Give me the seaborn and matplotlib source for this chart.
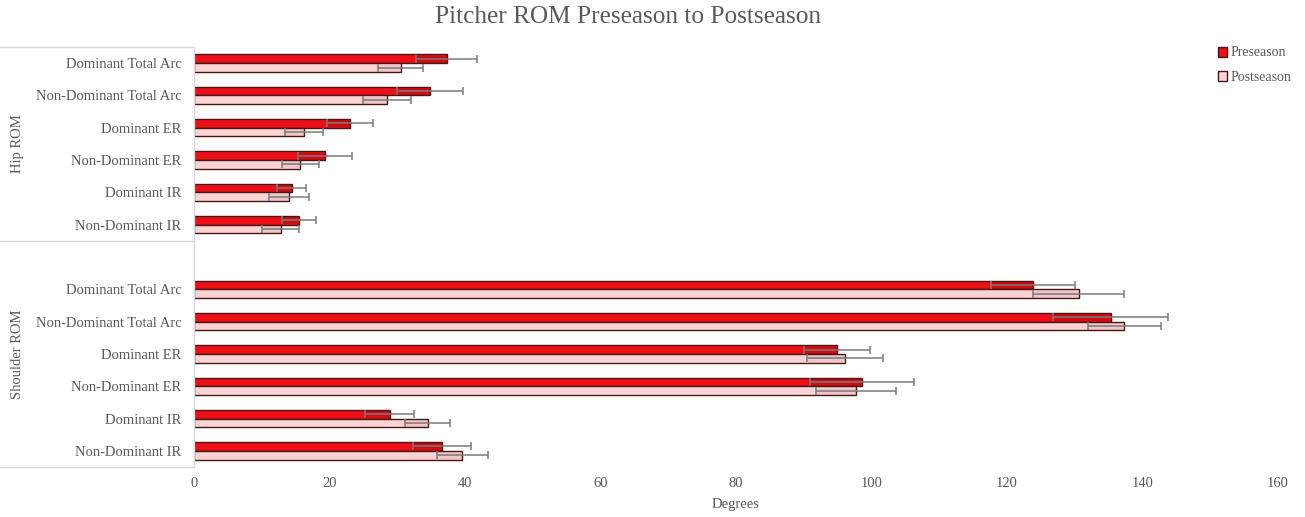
import numpy as np
import pandas as pd
import matplotlib
matplotlib.use("Agg")
import matplotlib.pyplot as plt
import seaborn as sns
from matplotlib.transforms import blended_transform_factory

# ---- data ----
groups = ["Hip ROM"] * 6 + ["Shoulder ROM"] * 6
measures = ["Dominant Total Arc", "Non-Dominant Total Arc", "Dominant ER",
            "Non-Dominant ER", "Dominant IR", "Non-Dominant IR"] * 2
pre_mean = [37.3, 34.8, 23.0, 19.3, 14.4, 15.5,
            123.8, 135.3, 94.9, 98.6, 28.9, 36.6]
pre_err = [4.5, 4.9, 3.4, 4.0, 2.1, 2.5,
           6.2, 8.5, 4.9, 7.7, 3.6, 4.3]
post_mean = [30.5, 28.5, 16.2, 15.7, 14.0, 12.8,
             130.6, 137.3, 96.1, 97.7, 34.5, 39.6]
post_err = [3.3, 3.5, 2.8, 2.7, 3.0, 2.7,
            6.7, 5.4, 5.6, 5.9, 3.3, 3.8]
seasons = ["Preseason", "Postseason"]
x_ticks = [0, 20, 40, 60, 80, 100, 120, 140, 160]

keys = [f"{g}|{m}" for g, m in zip(groups, measures)]
order = keys[:6] + ["gap"] + keys[6:]

df = pd.DataFrame({
    "key": keys * 2,
    "season": [seasons[0]] * 12 + [seasons[1]] * 12,
    "value": pre_mean + post_mean,
    "err": pre_err + post_err,
})

# ---- style ----
sns.set_style("white")
plt.rcParams["font.family"] = ["Liberation Serif", "DejaVu Serif"]
text_c = "#595959"
pre_c = "#EE0F16"
post_c = "#FAD4D5"
edge_c = "#4a1515"

fig = plt.figure(figsize=(13.05, 5.17), dpi=100)
ax = fig.add_axes([194 / 1305, 1 - 467 / 517, (1278 - 194) / 1305, (467 - 47) / 517])

sns.barplot(data=df, y="key", x="value", hue="season", order=order,
            hue_order=seasons, palette=[pre_c, post_c], width=0.54,
            edgecolor=edge_c, linewidth=1.0, errorbar=None, ax=ax,
            orient="h", legend=True, saturation=1)

# error bars from drawn bars
band = {"Preseason": ("#5a0000", 0.2), "Postseason": ("#7a2020", 0.07)}
for cont, season in zip(ax.containers, seasons):
    sub = df[df.season == season].set_index("key")
    bc, ba = band[season]
    for patch, k in zip(cont.patches, keys):
        yc = patch.get_y() + patch.get_height() / 2
        val = patch.get_width()
        e = sub.loc[k, "err"]
        p0 = ax.transData.transform((0, patch.get_y()))
        p1 = ax.transData.transform((0, patch.get_y() + patch.get_height()))
        hpt = abs(p1[1] - p0[1]) * 72 / fig.dpi
        ax.errorbar(val, yc, xerr=[[e], [0]], fmt="none", ecolor=bc,
                    elinewidth=hpt - 1.2, alpha=ba, capsize=0, zorder=3)
        ax.errorbar(val, yc, xerr=e, fmt="none", ecolor="#7a7a7a",
                    elinewidth=1.1, capsize=3.2, capthick=1.1, zorder=4)

ax.set_xlim(0, 160)
ax.set_ylim(12.5, -0.5)
ax.set_xticks(x_ticks)
ax.set_xticklabels([str(t) for t in x_ticks], color=text_c, fontsize=10.5)
ax.tick_params(axis="x", length=0, pad=7)
labels = [k.split("|")[1] if "|" in k else "" for k in order]
ax.set_yticks(range(len(order)))
ax.set_yticklabels(labels, color=text_c, fontsize=10.5)
ax.tick_params(axis="y", length=0, pad=9)
ax.set_ylabel("")
ax.set_xlabel("Degrees", color=text_c, fontsize=10.5, labelpad=6)

for s in ["top", "right", "bottom"]:
    ax.spines[s].set_visible(False)
ax.spines["left"].set_color("#d9d9d9")
ax.spines["left"].set_linewidth(1.0)

# category group box
tr = blended_transform_factory(fig.transFigure, ax.transData)
for yv in [-0.5, 5.5, 12.5]:
    ax.plot([0.0, 194 / 1305], [yv, yv], color="#d9d9d9", lw=1.0,
            transform=tr, clip_on=False)
ax.text(18 / 1305, 2.5, "Hip ROM", rotation=90, transform=tr, ha="center",
        va="center", color=text_c, fontsize=10.5)
ax.text(18 / 1305, 9.0, "Shoulder ROM", rotation=90, transform=tr,
        ha="center", va="center", color=text_c, fontsize=10.5)

fig.text(628 / 1305, 1 - 17 / 517, "Pitcher ROM Preseason to Postseason",
         ha="center", va="center", color=text_c, fontsize=18.2)

h, l = ax.get_legend_handles_labels()
ax.legend(h, l, loc="upper left", bbox_to_anchor=(1205 / 1305, 1 - 34 / 517),
          bbox_transform=fig.transFigure, frameon=False, handlelength=0.7,
          handleheight=0.7, handletextpad=0.25, labelspacing=0.8,
          fontsize=10, labelcolor=text_c)

fig.savefig("out.png", dpi=100, facecolor="white")
